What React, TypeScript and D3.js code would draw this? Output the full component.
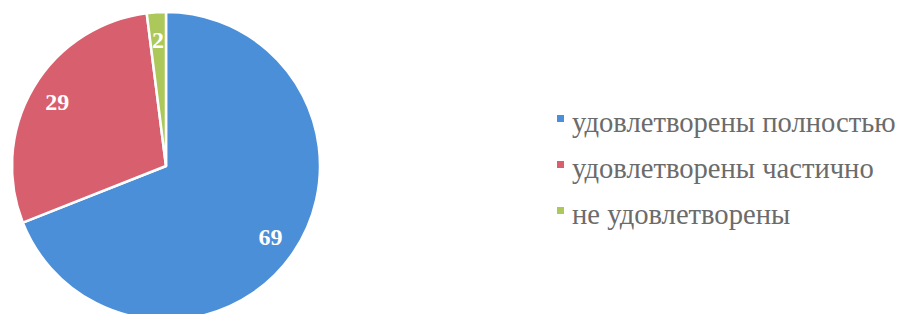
import React, { useEffect, useRef } from "react";
import * as d3 from "d3";

// chart data
const categories = ["удовлетворены полностью", "удовлетворены частично", "не удовлетворены"];
const values = [69, 29, 2];
const colors = ["#4b8fd9", "#d8606e", "#adc85a"];

const W = 898,
  H = 314;

export default function App() {
  const ref = useRef<SVGSVGElement>(null);

  useEffect(() => {
    const svg = d3.select(ref.current);
    svg.selectAll("*").remove();

    const radius = 154;
    const cx = 166,
      cy = 166;

    const pie = d3
      .pie<number>()
      .sort(null)
      .value((d) => d);
    const arcs = pie(values);

    const arc = d3.arc<d3.PieArcDatum<number>>().innerRadius(0).outerRadius(radius);
    const labelArc = d3
      .arc<d3.PieArcDatum<number>>()
      .innerRadius(radius * 0.82)
      .outerRadius(radius * 0.82);

    const g = svg.append("g").attr("transform", "translate(" + cx + "," + cy + ")");

    g.selectAll("path.slice")
      .data(arcs)
      .enter()
      .append("path")
      .attr("class", "slice")
      .attr("d", arc)
      .attr("fill", (d, i) => colors[i])
      .attr("stroke", "#fff")
      .attr("stroke-width", 2.5)
      .attr("stroke-linejoin", "round");

    g.selectAll("text.lbl")
      .data(arcs)
      .enter()
      .append("text")
      .attr("class", "lbl")
      .attr("transform", (d) => "translate(" + labelArc.centroid(d) + ")")
      .attr("text-anchor", "middle")
      .attr("dy", "0.35em")
      .attr("fill", "#fff")
      .attr("font-family", "'Liberation Serif', serif")
      .attr("font-weight", "bold")
      .attr("font-size", 24)
      .text((d) => d.data);

    // legend
    const legend = svg.append("g").attr("transform", "translate(557,0)");
    const y = d3.scalePoint<number>().domain(d3.range(categories.length)).range([132, 224]);

    const rows = legend
      .selectAll("g.row")
      .data(categories)
      .enter()
      .append("g")
      .attr("class", "row")
      .attr("transform", (d, i) => "translate(0," + y(i) + ")");

    rows
      .append("rect")
      .attr("x", 0)
      .attr("y", -17)
      .attr("width", 7)
      .attr("height", 7)
      .attr("fill", (d, i) => colors[i]);

    rows
      .append("text")
      .attr("x", 15)
      .attr("y", 0)
      .attr("fill", "#6b6b6b")
      .attr("font-family", "'Liberation Serif', serif")
      .attr("font-size", 28.6)
      .text((d) => d);
  }, []);

  return (
    <svg
      ref={ref}
      width={W}
      height={H}
      style={{ position: "absolute", left: 0, top: 0, background: "#fff" }}
    />
  );
}
